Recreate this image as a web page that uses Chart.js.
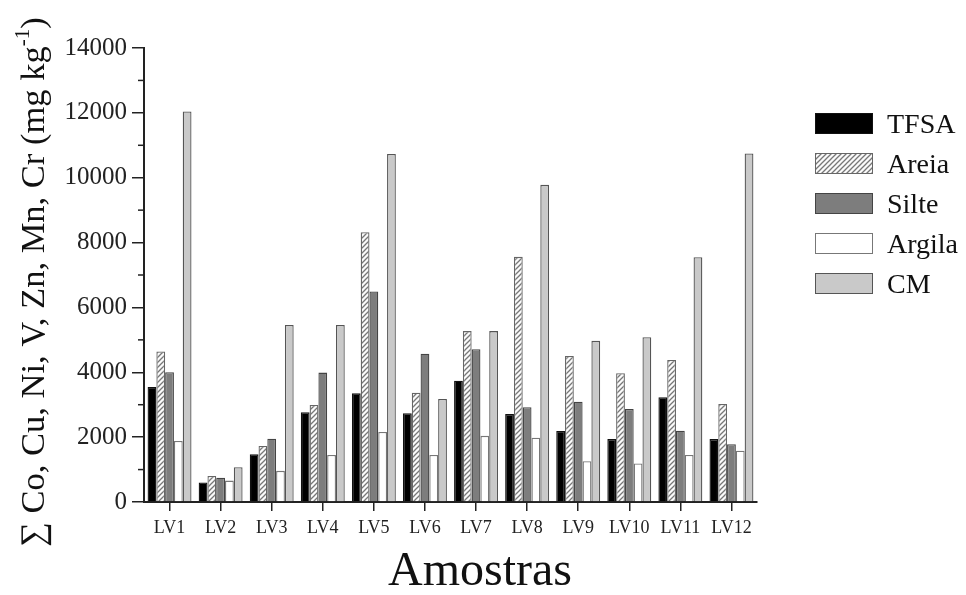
<!DOCTYPE html>
<html>
<head>
<meta charset="utf-8">
<script src="https://cdn.jsdelivr.net/npm/chart.js@4.4.1/dist/chart.umd.min.js"></script>
<style>
  html, body { margin: 0; padding: 0; background: #fff; }
  #wrap { position: relative; width: 966px; height: 595px; }
  #legend { position: absolute; left: 815px; top: 113px; font-family: "Liberation Serif", serif; font-size: 28px; color: #111; }
  .item { display: flex; align-items: center; height: 21px; margin-bottom: 19px; }
  .box { width: 56px; height: 19px; border: 1.5px solid #555; margin-right: 14px; }
</style>
</head>
<body>
<div id="wrap">
  <canvas id="c" width="966" height="595"></canvas>
  <div id="legend"></div>
</div>
<script>
const labels = ["LV1", "LV2", "LV3", "LV4", "LV5", "LV6", "LV7", "LV8", "LV9", "LV10", "LV11", "LV12"];
const tfsa   = [3550, 600, 1470, 2770, 3350, 2740, 3740, 2710, 2190, 1940, 3230, 1940];
const areia  = [4640, 800, 1730, 2990, 8320, 3370, 5270, 7560, 4500, 3970, 4380, 3020];
const silte  = [4000, 750, 1950, 3990, 6490, 4570, 4710, 2920, 3090, 2870, 2200, 1780];
const argila = [1880, 660, 960, 1450, 2160, 1450, 2040, 1980, 1260, 1190, 1450, 1580];
const cm     = [12040, 1070, 5460, 5460, 10730, 3180, 5270, 9780, 4970, 5080, 7550, 10750];

// hatch tile for Areia
function hatchTile() {
  const t = document.createElement("canvas");
  t.width = t.height = 5;
  const g = t.getContext("2d");
  g.fillStyle = "#fafafa";
  g.fillRect(0, 0, 5, 5);
  g.strokeStyle = "#777";
  g.lineWidth = 1.3;
  g.beginPath();
  g.moveTo(-1, 6); g.lineTo(6, -1);
  g.moveTo(-1, 1); g.lineTo(1, -1);
  g.moveTo(4, 6); g.lineTo(6, 4);
  g.stroke();
  return t;
}
const tile = hatchTile();
const ctx = document.getElementById("c").getContext("2d");
const hatch = ctx.createPattern(tile, "repeat");

const series = [
  { label: "TFSA",   data: tfsa,   fill: "#000",    line: "#111", css: "#000" },
  { label: "Areia",  data: areia,  fill: hatch,     line: "#666", css: "url(" + tile.toDataURL() + ")" },
  { label: "Silte",  data: silte,  fill: "#7d7d7d", line: "#444", css: "#7d7d7d" },
  { label: "Argila", data: argila, fill: "#fff",    line: "#777", css: "#fff" },
  { label: "CM",     data: cm,     fill: "#c9c9c9", line: "#555", css: "#c9c9c9" }
];

const legend = document.getElementById("legend");
series.forEach(s => {
  const it = document.createElement("div");
  it.className = "item";
  const b = document.createElement("div");
  b.className = "box";
  b.style.background = s.css;
  b.style.borderColor = s.line;
  it.appendChild(b);
  it.appendChild(document.createTextNode(s.label));
  legend.appendChild(it);
});

Chart.defaults.font.family = '"Liberation Serif", "Times New Roman", serif';
Chart.defaults.color = "#222";

// minor ticks on y and the two axis titles
const extras = {
  id: "extras",
  afterDraw(chart) {
    const g = chart.ctx;
    const y = chart.scales.y;
    g.save();
    g.strokeStyle = "#222";
    g.lineWidth = 1.5;
    for (let v = 1000; v < 14000; v += 2000) {
      const py = y.getPixelForValue(v);
      g.beginPath();
      g.moveTo(y.right - 6, py);
      g.lineTo(y.right, py);
      g.stroke();
    }
    g.fillStyle = "#111";
    g.font = '48px "Liberation Serif"';
    g.textAlign = "center";
    g.textBaseline = "alphabetic";
    g.fillText("Amostras", 480, 585);

    g.translate(44, 282);
    g.rotate(-Math.PI / 2);
    const main = "\u2211 Co, Cu, Ni, V, Zn, Mn, Cr (mg kg";
    g.font = '34.5px "Liberation Serif"';
    const w1 = g.measureText(main).width;
    g.font = '21px "Liberation Serif"';
    const w2 = g.measureText("-1").width;
    g.font = '34.5px "Liberation Serif"';
    const w3 = g.measureText(")").width;
    let x0 = -(w1 + w2 + w3) / 2;
    g.textAlign = "left";
    g.fillText(main, x0, 0);
    g.font = '21px "Liberation Serif"';
    g.fillText("-1", x0 + w1, -15);
    g.font = '34.5px "Liberation Serif"';
    g.fillText(")", x0 + w1 + w2, 0);
    g.restore();
  }
};

new Chart(ctx, {
  type: "bar",
  data: {
    labels: labels,
    datasets: series.map(s => ({
      label: s.label,
      data: s.data,
      backgroundColor: s.fill,
      borderColor: s.line,
      borderWidth: 1.3,
      categoryPercentage: 0.86,
      barPercentage: 1
    }))
  },
  options: {
    responsive: false,
    animation: false,
    layout: { padding: { left: 0, top: 48, right: 209, bottom: 0 } },
    plugins: {
      legend: { display: false },
      tooltip: { enabled: false }
    },
    scales: {
      x: {
        afterFit: s => { s.height = 93; },
        grid: { offset: false, drawOnChartArea: false, tickLength: 9, color: "#222", lineWidth: 1.5 },
        border: { color: "#222", width: 2 },
        ticks: { font: { size: 18 }, padding: 6, color: "#222" }
      },
      y: {
        min: 0,
        max: 14000,
        afterFit: s => { s.width = 144; },
        grid: { drawOnChartArea: false, tickLength: 12, color: "#222", lineWidth: 1.5 },
        border: { color: "#222", width: 2 },
        ticks: { stepSize: 2000, font: { size: 25 }, padding: 5, color: "#222", callback: v => String(v) }
      }
    }
  },
  plugins: [extras]
});
</script>
</body>
</html>
